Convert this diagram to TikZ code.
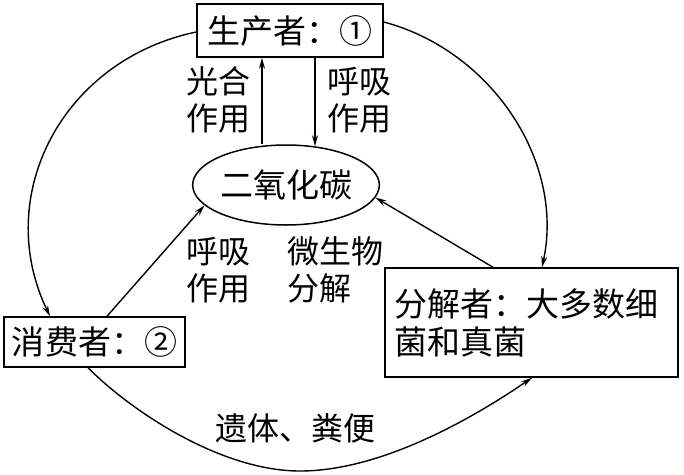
\documentclass[tikz,border=0pt]{standalone}
\usepackage{fontspec}
\newfontfamily\cjk{Noto Sans CJK SC}
\usetikzlibrary{arrows.meta,shapes.geometric}
\tikzset{
  box/.style={draw,line width=1.5pt,inner sep=0pt,font=\cjk\fontsize{33}{38}\selectfont},
  lbl/.style={inner sep=0pt,align=left,font=\cjk\fontsize{32}{37}\selectfont},
  conn/.style={line width=1.4pt,-{Stealth[length=11pt,width=6pt]}}
}
\begin{document}
\begin{tikzpicture}[x=1pt,y=-1pt]
\useasboundingbox (0,0) rectangle (684,474);
\node[box,minimum width=186pt,minimum height=53pt] (prod) at (290,30.5) {生产者：①};
\node[box,minimum width=181pt,minimum height=50pt] (cons) at (94.5,342) {消费者：②};
\node[box,minimum width=293pt,minimum height=109pt,text width=275pt,align=left] (dec) at (531.5,322.5) {分解者：大多数细\\菌和真菌};
\node[box,ellipse,minimum width=166pt,minimum height=80pt] (co2) at (286,185) {二氧化碳};

\node[lbl] (l1) at (218.5,100) {光合\\作用};
\node[lbl] (l2) at (359.5,100) {呼吸\\作用};
\node[lbl] (l3) at (218.5,270) {呼吸\\作用};
\node[lbl,anchor=west] (l4) at (287,270) {微生物\\分解};
\node[lbl] (l5) at (295,428) {遗体、粪便};

\draw[conn] ([xshift=-24pt]co2.north) -- ([xshift=-28pt]prod.south);
\draw[conn] ([xshift=25pt]prod.south) -- ([xshift=29pt,yshift=-2pt]co2.north);
\draw[conn] ([xshift=12.5pt]cons.north) -- (co2.194);
\draw[conn] ([xshift=-38.5pt]dec.north) -- (co2.352);
\draw[conn] ([yshift=-1.5pt]prod.west) .. controls (62,60) and (-8,196) .. ([xshift=-44.5pt]cons.north);
\draw[conn] ([yshift=8.5pt]prod.east) .. controls (490,50) and (565,160) .. ([xshift=10.5pt]dec.north);
\draw[conn] ([xshift=-6.5pt]cons.south) .. controls (130,410) and (220,471) .. (300,471) .. controls (380,471) and (470,420) .. ([xshift=0.5pt]dec.south);
\end{tikzpicture}
\end{document}
